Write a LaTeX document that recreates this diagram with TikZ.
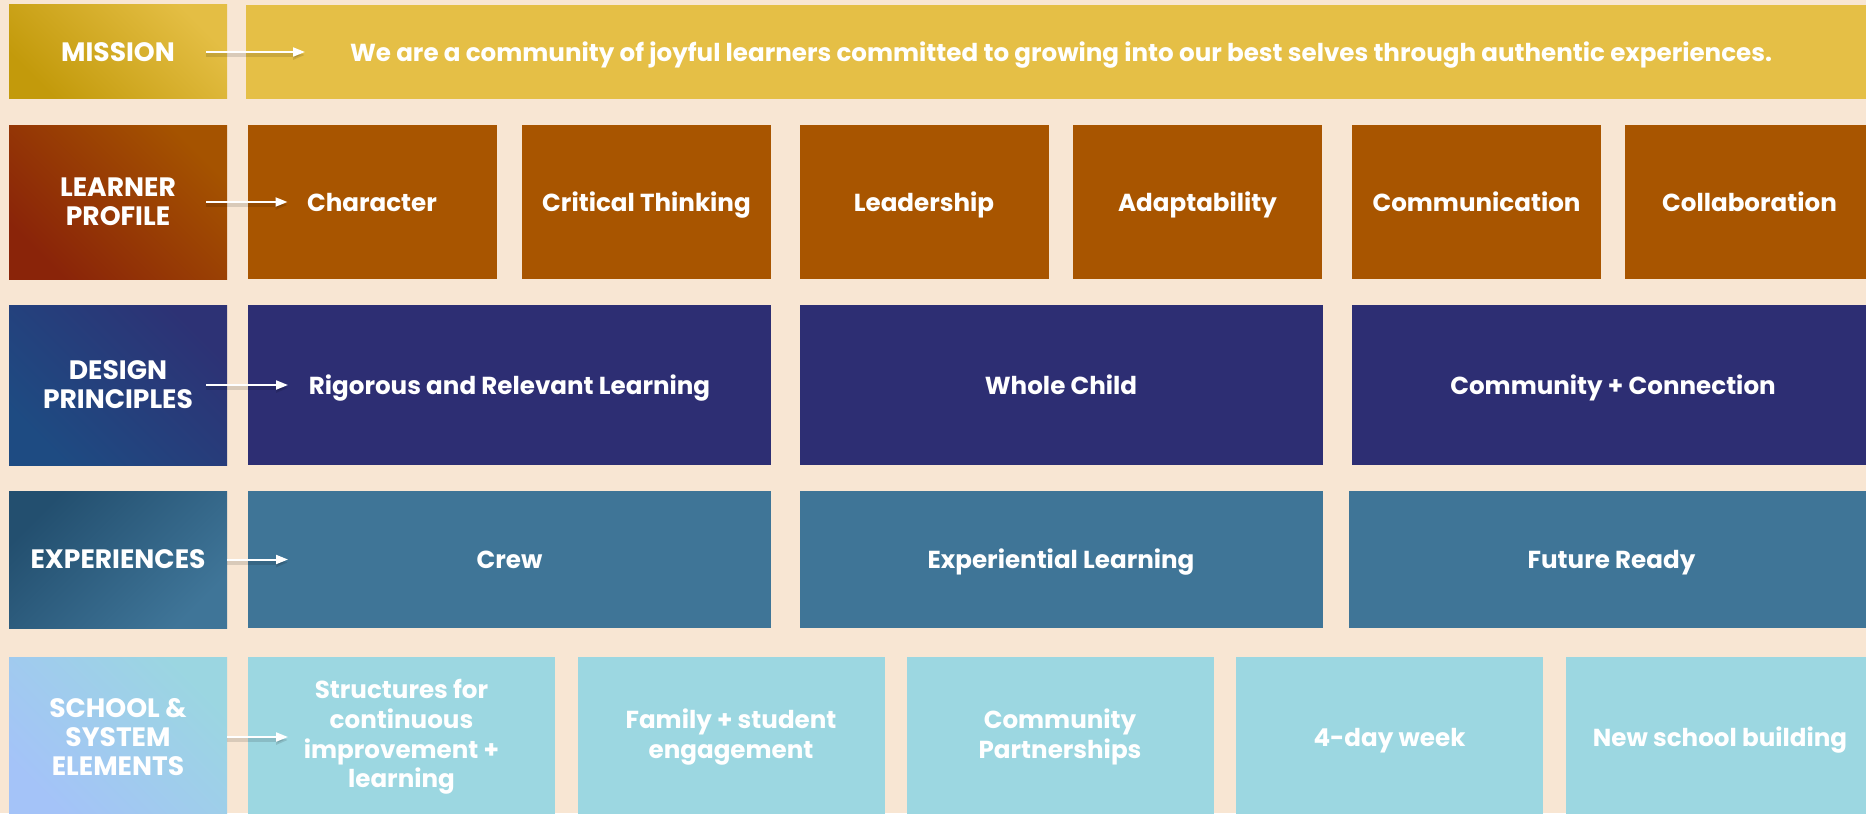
\documentclass[tikz,border=0pt]{standalone}
\usepackage{fontspec}
\setmainfont{Poppins}
\usetikzlibrary{arrows.meta}

\definecolor{paper}{HTML}{F8E6D3}
\definecolor{missiondark}{HTML}{C39A0B}
\definecolor{missionlight}{HTML}{E4BE44}
\definecolor{missionfill}{HTML}{E5BF46}
\definecolor{learnerdark}{HTML}{8A2409}
\definecolor{learnerlight}{HTML}{A55300}
\definecolor{learnerfill}{HTML}{A85500}
\definecolor{designdark}{HTML}{1E4B82}
\definecolor{designlight}{HTML}{2D3275}
\definecolor{designfill}{HTML}{2D2E73}
\definecolor{expdark}{HTML}{234F6F}
\definecolor{explight}{HTML}{3F7598}
\definecolor{expfill}{HTML}{3F7597}
\definecolor{schooldark}{HTML}{A4C3F8}
\definecolor{schoollight}{HTML}{9BD6E1}
\definecolor{schoolfill}{HTML}{9CD7E1}

\begin{document}
\begin{tikzpicture}[x=0.5pt, y=-0.5pt,
  cell/.style={inner sep=0pt, outer sep=0pt, text=white, align=center,
    font=\bfseries\fontsize{12.3}{14}\selectfont},
  oneline/.style={text height=9.1pt, text depth=0pt},
  head/.style={cell, minimum width=109pt, font=\bfseries\fontsize{13.3}{14.5}\selectfont},
  missionhead/.style={head, bottom color=missiondark, top color=missionlight, shading angle=-45},
  learnerhead/.style={head, bottom color=learnerdark, top color=learnerlight, shading angle=-45},
  designhead/.style={head, bottom color=designdark, top color=designlight, shading angle=-45},
  exphead/.style={head, top color=expdark, bottom color=explight, shading angle=45},
  schoolhead/.style={head, bottom color=schooldark, top color=schoollight, shading angle=-45},
  missioncell/.style={cell, oneline, fill=missionfill},
  learnercell/.style={cell, oneline, fill=learnerfill, minimum width=124.5pt},
  designcell/.style={cell, oneline, fill=designfill, minimum width=261.5pt},
  expcell/.style={cell, oneline, fill=expfill, minimum width=261.5pt},
  schoolcell/.style={cell, fill=schoolfill, minimum width=153.5pt,
    font=\bfseries\fontsize{12.3}{14.8}\selectfont},
  rowa/.style={minimum height=47pt},
  rowb/.style={minimum height=77pt},
  rowc/.style={minimum height=80pt},
  rowd/.style={minimum height=68.5pt},
  rowe/.style={minimum height=80pt},
  flow/.style={draw=white, line width=1pt, -{Triangle[length=6pt, width=4.5pt]},
    preaction={draw=black, opacity=0.12, line width=2pt, transform canvas={yshift=-1.5pt}}}
]

\useasboundingbox (0,0) rectangle (1866,813);
\clip (0,0) rectangle (1866,813);
\fill[paper] (0,0) rectangle (1866,813);

% mission
\node[missionhead, oneline, rowa] (missionlbl) at (118,52) {MISSION};
\node[missioncell, rowa, minimum width=815pt] (missiontxt) at (1061,52) {We are a community of joyful learners committed to growing into our best selves through authentic experiences.};

% learner profile
\node[learnerhead, rowb] (learnerlbl) at (118,202) {LEARNER\\PROFILE};
\node[learnercell, rowb] (character) at (372,202) {Character};
\node[learnercell, rowb] (critical) at (646.5,202) {Critical Thinking};
\node[learnercell, rowb] (leadership) at (924,202) {Leadership};
\node[learnercell, rowb] (adaptability) at (1197.5,202) {Adaptability};
\node[learnercell, rowb] (communication) at (1476.5,202) {Communication};
\node[learnercell, rowb] (collaboration) at (1749.5,202) {Collaboration};

% design principles
\node[designhead, rowc] (designlbl) at (118,385) {DESIGN\\PRINCIPLES};
\node[designcell, rowc] (rigorous) at (509.5,385) {Rigorous and Relevant Learning};
\node[designcell, rowc] (wholechild) at (1061,385) {Whole Child};
\node[designcell, rowc] (community) at (1613,385) {Community + Connection};

% experiences
\node[exphead, oneline, rowd] (explbl) at (118,559.5) {EXPERIENCES};
\node[expcell, rowd] (crew) at (509.5,559.5) {Crew};
\node[expcell, rowd] (experiential) at (1061,559.5) {Experiential Learning};
\node[expcell, rowd, minimum width=262.5pt] (futureready) at (1611.5,559.5) {Future Ready};

% school & system elements
\node[schoolhead, rowe] (schoollbl) at (118,737) {SCHOOL \&\\SYSTEM\\ELEMENTS};
\node[schoolcell, rowe] (structures) at (401.5,737) {Structures for\\continuous\\improvement +\\learning};
\node[schoolcell, rowe] (family) at (731,737) {Family + student\\engagement};
\node[schoolcell, rowe] (partnerships) at (1060,737) {Community\\Partnerships};
\node[schoolcell, oneline, rowe] (fourday) at (1389.5,737) {4-day week};
\node[schoolcell, oneline, rowe, minimum width=154pt] (building) at (1720,737) {New school building};

% arrows
\draw[flow] ([xshift=-10.5pt]missionlbl.east) -- ([xshift=29.5pt]missiontxt.west);
\draw[flow] ([xshift=-10.5pt]learnerlbl.east) -- ([xshift=20pt]character.west);
\draw[flow] ([xshift=-10.5pt]designlbl.east) -- ([xshift=20pt]rigorous.west);
\draw[flow] (explbl.east) -- ([xshift=20pt]crew.west);
\draw[flow] (schoollbl.east) -- ([xshift=20pt]structures.west);

\end{tikzpicture}
\end{document}
